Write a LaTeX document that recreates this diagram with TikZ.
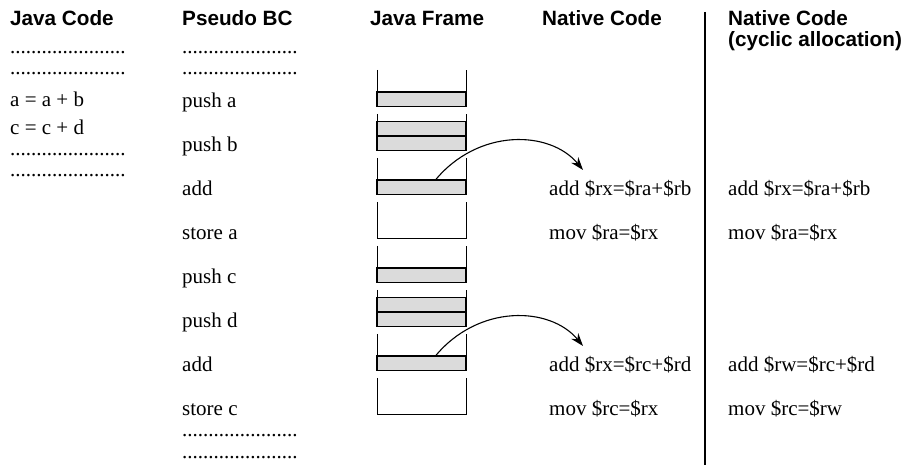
\documentclass[tikz,border=0pt]{standalone}
\usepackage{fontspec}
\setmainfont{Liberation Serif}
\setsansfont{Liberation Sans}
\usetikzlibrary{arrows.meta}
\newcommand\dotrow{......................}
\begin{document}
\begin{tikzpicture}[x=1pt,y=-1pt,
  hdr/.style={anchor=base west,inner sep=0pt,font=\sffamily\bfseries\fontsize{20.7}{23}\selectfont},
  code/.style={anchor=base west,inner sep=0pt,font=\fontsize{21}{25}\selectfont},
  side/.style={line width=1pt},
  slot/.style={draw,line width=1.5pt,fill=gray!28},
  flow/.style={line width=1.1pt,-{Stealth[length=13pt,width=9pt]}},
  divider/.style={line width=1.3pt}]
\useasboundingbox (0,0) rectangle (906,465);
% headers
\node[hdr] (hj) at (10,26) {Java Code};
\node[hdr] (hp) at (182,26) {Pseudo BC};
\node[hdr] (hf) at (370,26) {Java Frame};
\node[hdr] (hn) at (542,26) {Native Code};
\node[hdr] (hc1) at (728,26) {Native Code};
\node[hdr] (hc2) at (728,47) {(cyclic allocation)};
% divider
\coordinate (dtop) at (705,12);
\coordinate (dbot) at (705,465);
\draw[divider] (dtop) -- (dbot);
% Java code
\node[code] (j1) at (10,54) {\dotrow};
\node[code] (j2) at (10,75) {\dotrow};
\node[code] (j3) at (10,107) {a = a + b};
\node[code] (j4) at (10,135) {c = c + d};
\node[code] (j5) at (10,156) {\dotrow};
\node[code] (j6) at (10,177) {\dotrow};
% Pseudo BC
\node[code] (p1) at (182,54) {\dotrow};
\node[code] (p2) at (182,75) {\dotrow};
\node[code] (p3) at (182,107.5) {push a};
\node[code] (p4) at (182,151.5) {push b};
\node[code] (p5) at (182,195.5) {add};
\node[code] (p6) at (182,239.5) {store a};
\node[code] (p7) at (182,283.5) {push c};
\node[code] (p8) at (182,327.5) {push d};
\node[code] (p9) at (182,371.5) {add};
\node[code] (p10) at (182,415.5) {store c};
\node[code] (p11) at (182,436) {\dotrow};
\node[code] (p12) at (182,458) {\dotrow};
% Native code
\node[code] (n1) at (549,195.5) {add \$rx=\$ra+\$rb};
\node[code] (n2) at (549,239.5) {mov \$ra=\$rx};
\node[code] (n3) at (549,371.5) {add \$rx=\$rc+\$rd};
\node[code] (n4) at (549,415.5) {mov \$rc=\$rx};
% Native code cyclic
\node[code] (c1) at (728,195.5) {add \$rx=\$ra+\$rb};
\node[code] (c2) at (728,239.5) {mov \$ra=\$rx};
\node[code] (c3) at (728,371.5) {add \$rw=\$rc+\$rd};
\node[code] (c4) at (728,415.5) {mov \$rc=\$rw};
% Java frames
\foreach \k/\n in {0/1,1/2,2/1,3/0,4/1,5/2,6/1,7/0}{
  \pgfmathsetmacro\ft{70+44*\k}
  \pgfmathsetmacro\fb{106.5+44*\k}
  \draw[side] (377,\ft) -- (377,\fb) -- (466,\fb) -- (466,\ft);
  \ifnum\n>0 \draw[slot] (377,\fb-14.5) rectangle (466,\fb); \fi
  \ifnum\n>1 \draw[slot] (377,\fb-29) rectangle (466,\fb-14.5); \fi
}
% arrows
\coordinate (s1) at (435,180.5);
\coordinate (e1) at (583,170);
\coordinate (s2) at (435,356.5);
\coordinate (e2) at (583,346);
\draw[flow] (s1) .. controls (478,128) and (550,130) .. (e1);
\draw[flow] (s2) .. controls (478,304) and (550,306) .. (e2);
\end{tikzpicture}
\end{document}
